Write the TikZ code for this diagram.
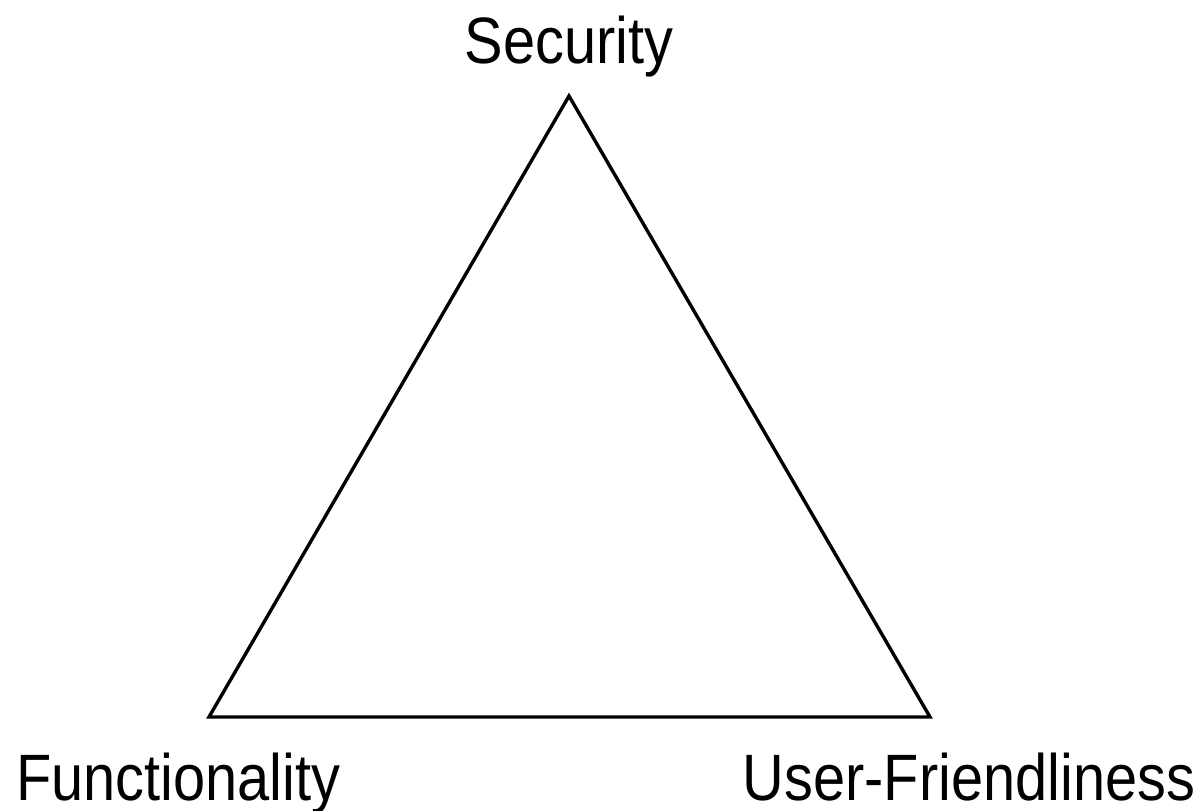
\documentclass[tikz,border=0pt]{standalone}
\usepackage{fontspec}
\setmainfont{Liberation Sans}[FakeStretch=0.88]
\usepackage{tikz}
\tikzset{
  tri edge/.style={black,line width=3.4pt,line join=miter},
  tri label/.style={inner sep=0pt,anchor=base,font=\fontsize{65.6}{70}\selectfont}
}
\begin{document}
\begin{tikzpicture}[x=1pt,y=-1pt]
  \useasboundingbox (0,0) rectangle (1203,811);
  \coordinate (top) at (569,96);
  \coordinate (left) at (209,717);
  \coordinate (right) at (930,717);
  \draw[tri edge] (top)--(left)--(right)--cycle;
  \node[tri label] (sec) at (569,63) {Security};
  \node[tri label] (fun) at (178.5,800) {Functionality};
  \node[tri label] (usr) at (969,800) {User-Friendliness};
\end{tikzpicture}
\end{document}
